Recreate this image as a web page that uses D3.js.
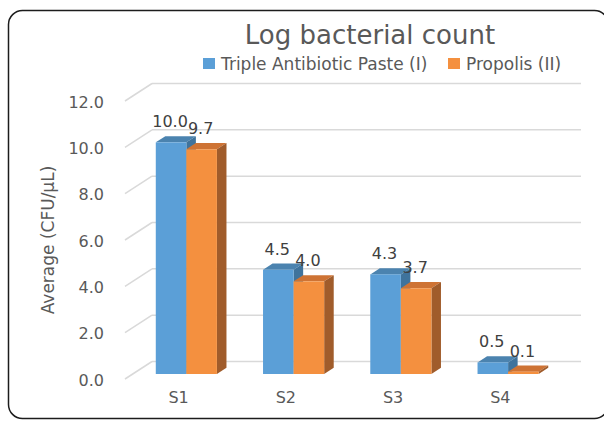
<!DOCTYPE html>
<html>
<head>
<meta charset="utf-8">
<script src="https://cdn.jsdelivr.net/npm/d3@7"></script>
<style>
  body { margin: 0; background: #fff; }
  svg text { font-family: "DejaVu Sans", sans-serif; }
</style>
</head>
<body>
<div id="chart"></div>
<script>
// data
var categories = ["S1", "S2", "S3", "S4"];
var seriesNames = ["Triple Antibiotic Paste (I)", "Propolis (II)"];
var tapValues = [10.0, 4.5, 4.3, 0.5];
var propolisValues = [9.7, 4.0, 3.7, 0.1];
var yTicks = [0, 2, 4, 6, 8, 10, 12];

var colors = [
  {front: "#5B9FD7", top: "#4B83AF", side: "#3F739C"},
  {front: "#F4903F", top: "#CE7334", side: "#A05C2B"}
];

var width = 604, height = 421;

// 3d floor depth (front plane -> back wall)
var depth = {dx: 27, dy: -17.5};
var barNear = 0.286, barFar = 0.64;

var svg = d3.select("#chart").append("svg")
  .attr("width", width)
  .attr("height", height);

svg.append("rect")
  .attr("x", 8.5)
  .attr("y", 10.5)
  .attr("width", 600)
  .attr("height", 408)
  .attr("rx", 14)
  .attr("fill", "#fff")
  .attr("stroke", "#1c1c1c")
  .attr("stroke-width", 1.5);

var x0 = d3.scaleBand()
  .domain(categories)
  .range([125, 554]);

var x1 = d3.scaleBand()
  .domain(seriesNames)
  .range([x0.bandwidth() * 0.215, x0.bandwidth() * 0.785]);

var y = d3.scaleLinear()
  .domain([0, 12])
  .range([379, 101]);

// gridlines: side wall diagonal + back wall line
var grid = svg.append("g").attr("class", "grid");
grid.selectAll("line.diag")
  .data(yTicks)
  .enter()
  .append("line")
  .attr("x1", 125)
  .attr("y1", function(d) { return y(d); })
  .attr("x2", 125 + depth.dx)
  .attr("y2", function(d) { return y(d) + depth.dy; })
  .attr("stroke", "#D9D9D9")
  .attr("stroke-width", 1.5);

grid.selectAll("line.back")
  .data(yTicks)
  .enter()
  .append("line")
  .attr("x1", 125 + depth.dx)
  .attr("y1", function(d) { return y(d) + depth.dy; })
  .attr("x2", 581)
  .attr("y2", function(d) { return y(d) + depth.dy; })
  .attr("stroke", "#D9D9D9")
  .attr("stroke-width", 1.5);

// y axis labels (front plane)
var yAxis = d3.axisLeft(y)
  .tickValues(yTicks)
  .tickFormat(d3.format(".1f"))
  .tickSize(0)
  .tickPadding(21);

var yG = svg.append("g")
  .attr("transform", "translate(125,1)")
  .call(yAxis);
yG.select(".domain").remove();
yG.selectAll("text")
  .attr("font-size", 16)
  .attr("fill", "#595959")
  .style("font-family", "'DejaVu Sans', sans-serif");

// x axis labels
var xAxis = d3.axisBottom(x0)
  .tickSize(0)
  .tickPadding(0);

var xG = svg.append("g")
  .attr("transform", "translate(0,392)")
  .call(xAxis);
xG.select(".domain").remove();
xG.selectAll("text")
  .attr("font-size", 16)
  .attr("fill", "#595959")
  .style("font-family", "'DejaVu Sans', sans-serif");

// bars
var rows = categories.map(function(c, i) {
  return {cat: c, values: [tapValues[i], propolisValues[i]]};
});

function pt(px, py) { return px + "," + py; }

var groups = svg.selectAll("g.cat")
  .data(rows)
  .enter()
  .append("g")
  .attr("class", "cat");

groups.each(function(row) {
  var g = d3.select(this);
  row.values.forEach(function(v, s) {
    var name = seriesNames[s];
    var xl = x0(row.cat) + x1(name) + depth.dx * barNear;
    var xr = xl + x1.bandwidth();
    var yb = y(0) + depth.dy * barNear;
    var yt = y(v) + depth.dy * barNear;
    var ddx = depth.dx * (barFar - barNear);
    var ddy = depth.dy * (barFar - barNear);
    var c = colors[s];

    // top
    g.append("polygon")
      .attr("points", [pt(xl, yt), pt(xl + ddx, yt + ddy), pt(xr + ddx, yt + ddy), pt(xr, yt)].join(" "))
      .attr("fill", c.top);
    // side
    g.append("polygon")
      .attr("points", [pt(xr, yt), pt(xr + ddx, yt + ddy), pt(xr + ddx, yb + ddy), pt(xr, yb)].join(" "))
      .attr("fill", c.side);
    // front
    g.append("rect")
      .attr("x", xl)
      .attr("y", yt)
      .attr("width", xr - xl)
      .attr("height", yb - yt)
      .attr("fill", c.front);
  });
});

// data labels
groups.each(function(row) {
  var g = d3.select(this);
  row.values.forEach(function(v, s) {
    var xl = x0(row.cat) + x1(seriesNames[s]) + depth.dx * barNear;
    g.append("text")
      .attr("x", xl + x1.bandwidth() / 2 - 1)
      .attr("y", y(v) + depth.dy * barNear - 15)
      .attr("text-anchor", "middle")
      .attr("font-size", 16)
      .attr("fill", "#404040")
      .text(d3.format(".1f")(v));
  });
});

// y axis title
svg.append("text")
  .attr("transform", "translate(54,240) rotate(-90)")
  .attr("text-anchor", "middle")
  .attr("font-size", 17)
  .attr("fill", "#595959")
  .text("Average (CFU/\u00B5L)");

// title
svg.append("text")
  .attr("x", 370)
  .attr("y", 44)
  .attr("text-anchor", "middle")
  .attr("font-size", 26)
  .attr("fill", "#595959")
  .text("Log bacterial count");

// legend
var legendX = [203, 448];
var legend = svg.selectAll("g.legend")
  .data(seriesNames)
  .enter()
  .append("g")
  .attr("class", "legend")
  .attr("transform", function(d, i) { return "translate(" + legendX[i] + ",0)"; });

legend.append("rect")
  .attr("x", 0)
  .attr("y", 58)
  .attr("width", 12)
  .attr("height", 11)
  .attr("fill", function(d, i) { return colors[i].front; });

legend.append("text")
  .attr("x", 18)
  .attr("y", 70)
  .attr("font-size", 17)
  .attr("fill", "#595959")
  .text(function(d) { return d; });
</script>
</body>
</html>
